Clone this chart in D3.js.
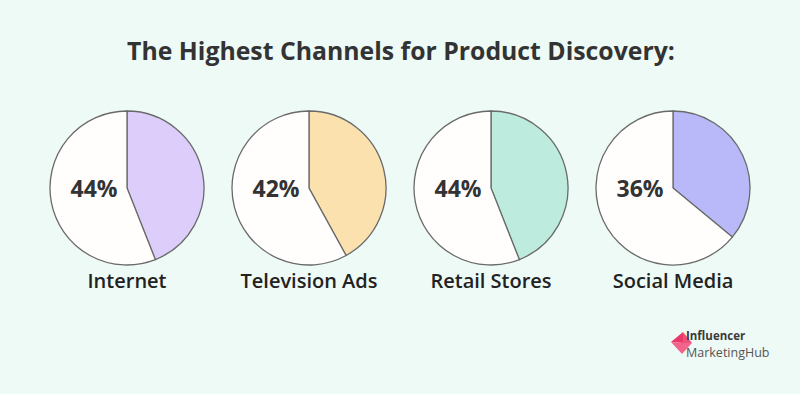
<!DOCTYPE html>
<html><head>
<meta charset="utf-8">
<script src="https://d3js.org/d3.v7.min.js"></script>
<style>
  body { margin: 0; background: #eefaf6; }
  svg text { font-family: "Open Sans", "Noto Sans", sans-serif; fill: #333; }
</style>
</head>
<body>
<svg id="chart" width="800" height="394"></svg>
<script>
  // data
  const channels = ["Internet", "Television Ads", "Retail Stores", "Social Media"];
  const shares = [44, 42, 44, 36];
  const sliceColors = ["#dccdfb", "#fbe1ae", "#bdecdf", "#b9b9f9"];

  const svg = d3.select("svg#chart");
  const width = +svg.attr("width");

  svg.append("rect").attr("width", width).attr("height", 394).attr("fill", "#eefaf6");

  svg.append("text")
     .attr("x", 401).attr("y", 60)
     .attr("text-anchor", "middle")
     .style("font-size", "24.8px").style("font-weight", 700)
     .text("The Highest Channels for Product Discovery:");

  // one pie per channel, spread along x
  const xScale = d3.scalePoint().domain(channels).range([127, 673]);
  const radius = 77;
  const pie = d3.pie().sort(null).value(d => d);
  const arc = d3.arc().innerRadius(0).outerRadius(radius);

  channels.forEach((c, i) => {
    const g = svg.append("g")
                 .attr("transform", `translate(${xScale(c)}, 188)`);

    const slices = pie([shares[i], 100 - shares[i]]);
    g.selectAll("path")
     .data(slices)
     .join("path")
     .attr("d", arc)
     .attr("fill", (d, j) => j == 0 ? sliceColors[i] : "#fffefc")
     .attr("stroke", "#6a6a6a")
     .attr("stroke-width", 1.3);

    g.append("text")
     .attr("x", -33).attr("y", 9)
     .attr("text-anchor", "middle")
     .style("font-size", "23px").style("font-weight", 700)
     .text(shares[i] + "%");

    g.append("text")
     .attr("x", 0).attr("y", 100)
     .attr("text-anchor", "middle")
     .style("font-size", "20px").style("font-weight", 600)
     .style("fill", "#222")
     .text(c);
  });

  // logo
  const logo = svg.append("g");
  logo.append("path").attr("d", "M671,342 L683,332 L683,343 Z").attr("fill", "#e8396a");
  logo.append("path").attr("d", "M671,342 L683,343 L692,343 L682,354 Z").attr("fill", "#f2648c");
  logo.append("path").attr("d", "M683,332 L683,343 L692,343 Z").attr("fill", "#ef4f7b");
  logo.append("text").attr("x", 686).attr("y", 340)
      .style("font-size", "11.5px").style("font-weight", 700).style("fill", "#3a3a3a")
      .text("Influencer");
  logo.append("text").attr("x", 686).attr("y", 357)
      .style("font-size", "12.5px").style("font-weight", 400).style("fill", "#555")
      .text("MarketingHub");
</script>
</body>
</html>
